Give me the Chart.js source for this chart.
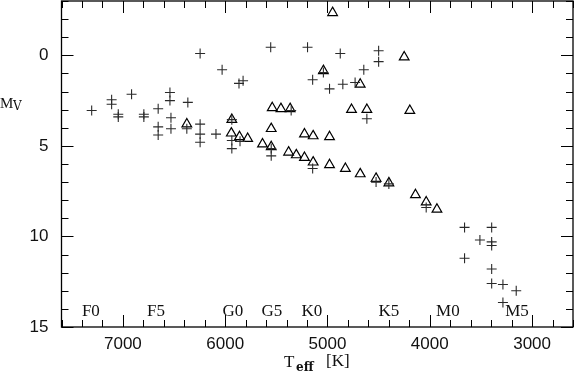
<!DOCTYPE html>
<html>
<head>
<meta charset="utf-8">
<script src="https://cdn.jsdelivr.net/npm/chart.js@4.4.1/dist/chart.umd.min.js"></script>
<style>
  html, body { margin: 0; padding: 0; background: #fff; }
  #wrap { width: 575px; height: 373px; }
</style>
</head>
<body>
<div id="wrap"><canvas id="hrChart"></canvas></div>
<script>
// plus-sign stars
const plusTeff = [6245, 6030, 5865, 5825, 5555, 5195, 5145, 7305, 7110, 7110, 7045, 7045, 6915, 6795, 6795,
                  6655, 6655, 6655, 6540, 6540, 6530, 6530, 6365, 6245, 6245, 6245, 6090, 5935, 5935, 5935,
                  5855, 5550, 5550, 5355, 5145, 6375, 4875, 4500, 4500, 4645, 5040, 4980, 4850, 4730, 4615,
                  4525, 4400, 4035, 3660, 3395, 3510, 3395, 3395, 3660, 3395, 3395, 3285, 3155, 3285];
const plusMv = [-0.1, 0.8, 1.55, 1.4, -0.45, -0.45, 1.35, 3.05, 2.45, 2.7, 3.25, 3.4, 2.15, 3.25, 3.4,
                2.95, 3.95, 4.4, 2.05, 2.5, 3.45, 4.05, 2.6, 3.8, 4.35, 4.8, 4.35, 3.55, 4.7, 5.15,
                4.75, 5.15, 5.55, 3.05, 6.25, 4.05, -0.1, -0.25, 0.35, 0.8, 0.95, 1.85, 1.6, 1.5, 3.5,
                7.0, 7.1, 8.4, 9.5, 9.5, 10.2, 10.3, 10.5, 11.2, 11.8, 12.6, 12.65, 13.0, 13.65];

// triangle stars
const triTeff = [6375, 5935, 5940, 5860, 5780, 5635, 5550, 5540, 5455, 5365, 5550, 5225, 5140, 5380, 5305,
                 5225, 5140, 4950, 4250, 5040, 4680, 4765, 4615, 4195, 4980, 4980, 4825, 4680, 4525, 4400,
                 4140, 4035, 3930];
const triMv = [3.8, 3.55, 4.3, 4.5, 4.6, 4.9, 5.05, 2.9, 2.95, 2.95, 4.05, 4.35, 4.45, 5.35, 5.5,
               5.65, 5.9, -2.35, 0.1, 0.85, 1.6, 3.0, 3.0, 3.05, 4.5, 6.05, 6.25, 6.55, 6.8, 7.05,
               7.7, 8.1, 8.5];

const spectralTypes = ['F0', 'F5', 'G0', 'G5', 'K0', 'K5', 'M0', 'M5'];
const spectralTeff = [7313, 6677, 5925, 5544, 5153, 4400, 3823, 3148];

const xTicks = [7000, 6000, 5000, 4000, 3000];
const yTicks = [0, 5, 10, 15];

const toPoints = (xs, ys) => xs.map((x, i) => ({ x: x, y: ys[i] }));

// frame with inward ticks on all four sides, spectral types and axis titles
const decorPlugin = {
    id: 'decor',
    afterDraw(chart) {
        const ctx = chart.ctx;
        const a = chart.chartArea;
        const xs = chart.scales.x;
        const ys = chart.scales.y;
        ctx.save();
        ctx.strokeStyle = '#000';
        ctx.lineWidth = 1.3;
        ctx.strokeRect(a.left, a.top, a.right - a.left, a.bottom - a.top);

        ctx.lineWidth = 1;
        ctx.beginPath();
        for (let t = 2600; t <= 7600; t += 200) {
            const px = Math.round(xs.getPixelForValue(t)) + 0.5;
            const len = t % 1000 === 0 ? 12 : 7;
            ctx.moveTo(px, a.bottom); ctx.lineTo(px, a.bottom - len);
            ctx.moveTo(px, a.top); ctx.lineTo(px, a.top + len);
        }
        for (let m = -3; m <= 15; m++) {
            const py = Math.round(ys.getPixelForValue(m)) + 0.5;
            const len = m % 5 === 0 ? 12 : 7;
            ctx.moveTo(a.left, py); ctx.lineTo(a.left + len, py);
            ctx.moveTo(a.right, py); ctx.lineTo(a.right - len, py);
        }
        ctx.stroke();

        ctx.fillStyle = '#111';
        ctx.font = '17px "Liberation Serif"';
        ctx.textAlign = 'center';
        ctx.textBaseline = 'middle';
        spectralTypes.forEach((s, i) => {
            ctx.fillText(s, xs.getPixelForValue(spectralTeff[i]), a.bottom - 15);
        });

        // y title: M_V
        ctx.textAlign = 'left';
        ctx.font = '15px "Liberation Serif"';
        ctx.fillText('M', 0, 104);
        ctx.font = '12px "DejaVu Serif"';
        ctx.fillText('V', 13, 107);

        // x title: T_eff [K]
        ctx.font = '17px "Liberation Serif"';
        ctx.fillText('T', 284, 363);
        ctx.font = '600 12px "DejaVu Serif"';
        ctx.fillText('eff', 296, 368);
        ctx.font = '17px "Liberation Serif"';
        ctx.fillText('[K]', 326, 362);
        ctx.restore();
    }
};

const ctx = document.getElementById('hrChart').getContext('2d');
const hrChart = new Chart(ctx, {
    type: 'scatter',
    data: {
        datasets: [{
            label: 'plus',
            data: toPoints(plusTeff, plusMv),
            pointStyle: 'cross',
            pointRadius: 5,
            pointHoverRadius: 5,
            borderColor: '#2a2a2a',
            backgroundColor: '#2a2a2a',
            pointBorderWidth: 1.1
        }, {
            label: 'triangle',
            data: toPoints(triTeff, triMv),
            pointStyle: 'triangle',
            pointRadius: 5.6,
            pointHoverRadius: 5.6,
            borderColor: '#000',
            backgroundColor: 'rgba(0,0,0,0)',
            pointBorderWidth: 1.2
        }]
    },
    options: {
        responsive: true,
        maintainAspectRatio: false,
        animation: false,
        layout: { autoPadding: false, padding: { top: 1, right: 2, left: 0, bottom: 0 } },
        plugins: {
            legend: { display: false },
            tooltip: { enabled: false }
        },
        scales: {
            x: {
                type: 'linear',
                min: 2600,
                max: 7600,
                reverse: true,
                afterBuildTicks: scale => { scale.ticks = xTicks.map(v => ({ value: v })); },
                afterFit: scale => {
                    scale.height = 46;
                    scale.paddingLeft = 0;
                    scale.paddingRight = 0;
                },
                grid: { display: false, drawTicks: false },
                border: { display: false },
                ticks: {
                    padding: 7,
                    color: '#111',
                    font: { family: '"Liberation Sans"', size: 17 },
                    maxRotation: 0,
                    callback: v => String(v)
                }
            },
            y: {
                type: 'linear',
                min: -3,
                max: 15,
                reverse: true,
                afterBuildTicks: scale => { scale.ticks = yTicks.map(v => ({ value: v })); },
                afterFit: scale => {
                    scale.width = 61.5;
                    scale.paddingTop = 0;
                    scale.paddingBottom = 0;
                },
                grid: { display: false, drawTicks: false },
                border: { display: false },
                ticks: {
                    padding: 13,
                    color: '#111',
                    font: { family: '"Liberation Sans"', size: 17 },
                    callback: v => String(v)
                }
            }
        }
    },
    plugins: [decorPlugin]
});
</script>
</body>
</html>
